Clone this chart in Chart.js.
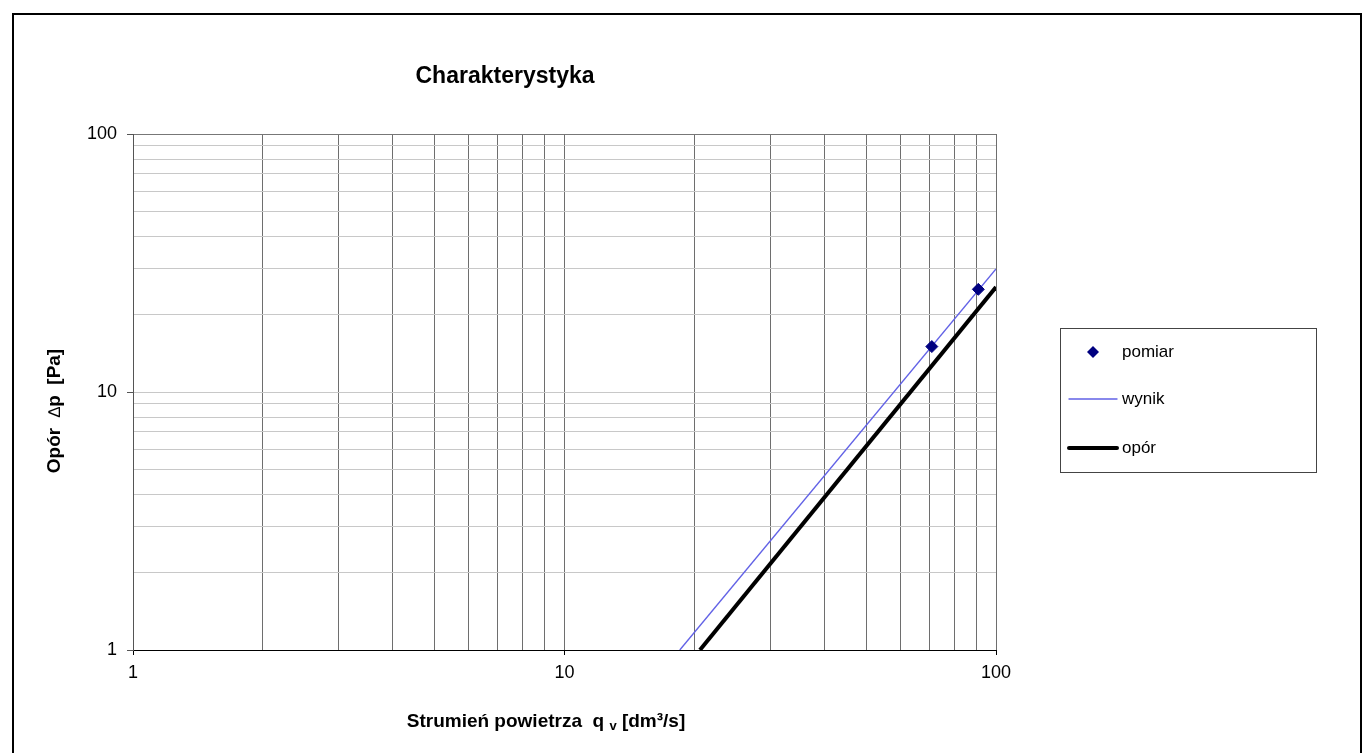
<!DOCTYPE html>
<html lang="pl">
<head>
<meta charset="utf-8">
<title>Charakterystyka</title>
<script src="https://cdn.jsdelivr.net/npm/chart.js@4.4.1/dist/chart.umd.min.js"></script>
<style>
    html, body { margin: 0; padding: 0; background: #fff; overflow: hidden; }
    #chart { position: absolute; left: 0; top: 0; }
    #frame {
        position: absolute; left: 12px; top: 13px; width: 1350px; height: 800px;
        border: 2px solid #000; box-sizing: border-box; pointer-events: none;
    }
</style>
</head>
<body>
<canvas id="chart" width="1362" height="753"></canvas>
<div id="frame"></div>
<script>
const chartTitle = "Charakterystyka";
const majorTicks = [1, 10, 100];

// pomiar - measured points
const pomiarX = [71, 91];
const pomiarY = [15, 25];
// wynik - fitted line (thin blue)
const wynikX = [18.5, 100];
const wynikY = [1, 30];
// opór - resistance line (thick black)
const oporX = [20.6, 100];
const oporY = [1, 25.5];

const FONT = "Arial, 'Liberation Sans', sans-serif";

function toPoints(xs, ys) {
    return xs.map((x, i) => ({ x, y: ys[i] }));
}

function drawParts(ctx, parts, x, y) {
    let cx = x;
    parts.forEach((p) => {
        ctx.font = p.font;
        ctx.fillText(p.text, cx, y + (p.dy || 0));
        cx += ctx.measureText(p.text).width;
    });
}

function partsWidth(ctx, parts) {
    return parts.reduce((w, p) => {
        ctx.font = p.font;
        return w + ctx.measureText(p.text).width;
    }, 0);
}

// keep only 1..9 x 10^n gridlines (drop 1.5, 15 ...)
function keepWholeTicks(scale) {
    scale.ticks = scale.ticks.filter((t) => {
        const s = t.value / Math.pow(10, Math.floor(Math.log10(t.value) + 1e-9));
        return Math.abs(s - Math.round(s)) < 1e-6;
    });
}

const decorPlugin = {
    id: "decor",
    afterDraw(chart) {
        const ctx = chart.ctx;
        ctx.save();
        ctx.fillStyle = "#000";
        ctx.textBaseline = "alphabetic";

        // title
        ctx.font = `bold 23px ${FONT}`;
        ctx.textAlign = "center";
        ctx.fillText(chartTitle, 505, 83);

        // x axis title
        ctx.textAlign = "left";
        const xParts = [
            { text: "Strumień powietrza  q ", font: `bold 19px ${FONT}` },
            { text: "v", font: `bold 13px ${FONT}`, dy: 3 },
            { text: " [dm³/s]", font: `bold 19px ${FONT}` }
        ];
        const xw = partsWidth(ctx, xParts);
        drawParts(ctx, xParts, 546 - xw / 2, 727);

        // y axis title
        const yParts = [
            { text: "Opór  ", font: `bold 19px ${FONT}` },
            { text: "∆", font: `17px ${FONT}` },
            { text: "p  [Pa]", font: `bold 19px ${FONT}` }
        ];
        const yw = partsWidth(ctx, yParts);
        ctx.translate(60, 411);
        ctx.rotate(-Math.PI / 2);
        drawParts(ctx, yParts, -yw / 2, 0);
        ctx.restore();

        // legend
        ctx.save();
        ctx.fillStyle = "#fff";
        ctx.fillRect(1060, 328, 256, 144);
        ctx.strokeStyle = "#444";
        ctx.lineWidth = 1;
        ctx.strokeRect(1060.5, 328.5, 256, 144);
        const rows = [352, 399, 448];
        chart.data.datasets.forEach((ds, i) => {
            const y = rows[i];
            if (ds.showLine === false) {
                ctx.fillStyle = ds.pointBackgroundColor;
                ctx.beginPath();
                ctx.moveTo(1093, y - 6);
                ctx.lineTo(1099, y);
                ctx.lineTo(1093, y + 6);
                ctx.lineTo(1087, y);
                ctx.closePath();
                ctx.fill();
            } else {
                ctx.strokeStyle = ds.borderColor;
                ctx.lineWidth = ds.borderWidth;
                ctx.lineCap = "round";
                ctx.beginPath();
                ctx.moveTo(1069, y);
                ctx.lineTo(1117, y);
                ctx.stroke();
            }
            ctx.fillStyle = "#000";
            ctx.font = `17px ${FONT}`;
            ctx.textAlign = "left";
            ctx.textBaseline = "middle";
            ctx.fillText(ds.label, 1122, y);
        });
        ctx.restore();
    }
};

function isMajor(v) {
    return majorTicks.includes(v);
}

new Chart(document.getElementById("chart"), {
    type: "scatter",
    data: {
        datasets: [
            {
                label: "pomiar",
                data: toPoints(pomiarX, pomiarY),
                showLine: false,
                pointStyle: "rectRot",
                pointRadius: 6,
                pointBorderWidth: 1,
                pointBackgroundColor: "#000080",
                pointBorderColor: "#000080"
            },
            {
                label: "wynik",
                data: toPoints(wynikX, wynikY),
                showLine: true,
                borderColor: "#6262e6",
                borderWidth: 1.4,
                pointRadius: 0
            },
            {
                label: "opór",
                data: toPoints(oporX, oporY),
                showLine: true,
                borderColor: "#000",
                borderWidth: 4,
                pointRadius: 0
            }
        ]
    },
    options: {
        responsive: false,
        animation: false,
        layout: {
            padding: { left: 0, top: 134, right: 366, bottom: 43 }
        },
        plugins: {
            legend: { display: false },
            title: { display: false },
            tooltip: { enabled: false }
        },
        scales: {
            x: {
                type: "logarithmic",
                min: 1,
                max: 100,
                afterBuildTicks: keepWholeTicks,
                afterFit(scale) { scale.height = 60; },
                border: { color: "#000", width: 1 },
                grid: {
                    color: "#6e6e6e",
                    lineWidth: 1,
                    tickLength: 5,
                    tickColor: (c) => (c.tick && isMajor(c.tick.value) ? "#000" : "rgba(0,0,0,0)")
                },
                ticks: {
                    autoSkip: false,
                    maxRotation: 0,
                    padding: 7,
                    color: "#000",
                    font: { family: FONT, size: 18 },
                    callback: (v) => (isMajor(v) ? String(v) : "")
                }
            },
            y: {
                type: "logarithmic",
                min: 1,
                max: 100,
                afterBuildTicks: keepWholeTicks,
                afterFit(scale) { scale.width = 133; },
                border: { color: "#555", width: 1 },
                grid: {
                    color: (c) => {
                        if (!c.tick) return "#c8c8c8";
                        if (c.tick.value === 1) return "#000";
                        if (c.tick.value === 100) return "#777";
                        return "#c8c8c8";
                    },
                    lineWidth: 1,
                    tickLength: 6,
                    tickColor: (c) => (c.tick && isMajor(c.tick.value) ? "#555" : "rgba(0,0,0,0)")
                },
                ticks: {
                    autoSkip: false,
                    padding: 10,
                    color: "#000",
                    font: { family: FONT, size: 18 },
                    callback: (v) => (isMajor(v) ? String(v) : "")
                }
            }
        }
    },
    plugins: [decorPlugin]
});
</script>
</body>
</html>
